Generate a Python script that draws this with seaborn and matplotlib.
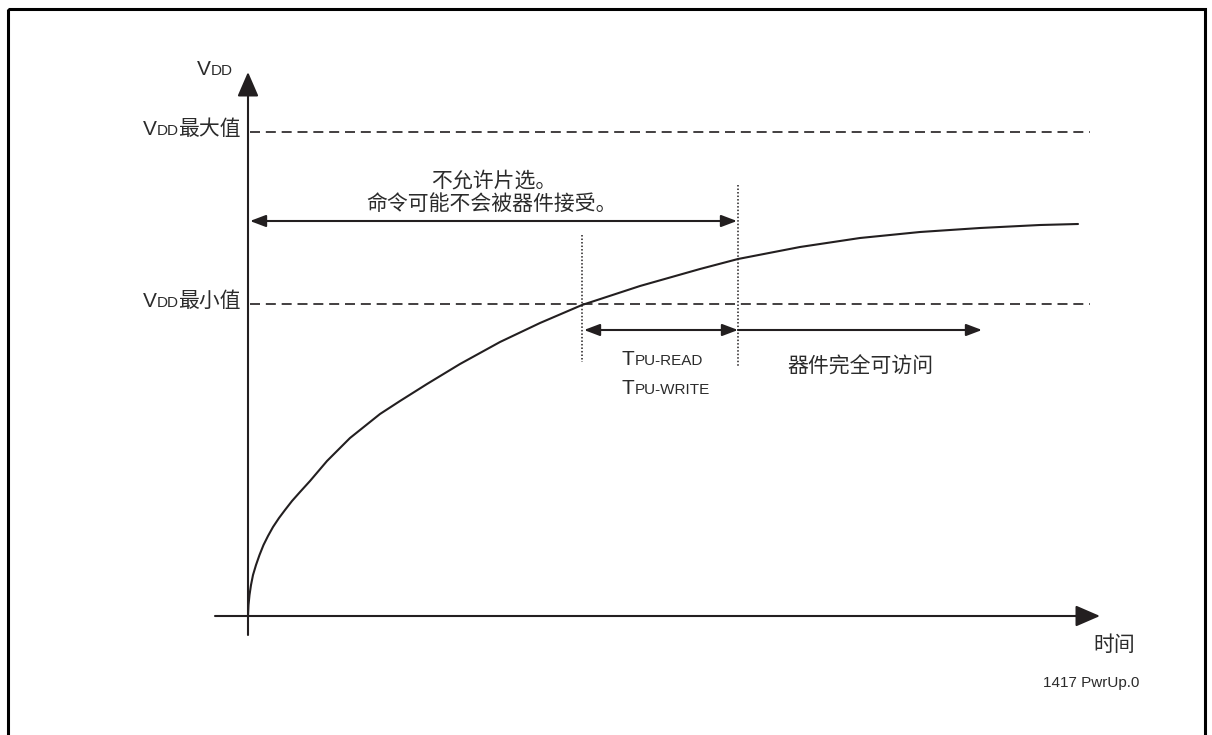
import matplotlib
matplotlib.use("Agg")
import matplotlib.pyplot as plt
import seaborn as sns
from matplotlib.patches import Rectangle

# everything below is in picture pixels (x to the right, y downwards)
curve_x = [248, 248.5, 249.5, 251, 253, 256, 259.5, 263.5, 268, 273, 279, 285, 292,
           300, 310, 327, 350, 380, 400, 427, 460, 500, 540, 582, 640, 700, 738,
           800, 860, 920, 980, 1040, 1078]
curve_y = [616, 605, 595, 585, 575, 565, 555, 545, 536, 527, 518, 510, 501,
           492, 481, 461, 438, 414, 401, 384, 364, 342, 323, 305, 286, 269, 259,
           247, 238, 232, 228, 225, 224]

vdd_levels = [132, 304]            # VDD max, VDD min
level_labels = ["最大值", "最小值"]
t_read_x = 582                      # VDD reaches min
t_ok_x = 738                        # device fully accessible
origin = (248, 616)

LINE = "#231f20"
TEXT = "#2b2b2b"

sns.set_theme(style="white")
plt.rcParams["font.family"] = ["Liberation Sans", "Noto Sans CJK SC", "DejaVu Sans"]

fig = plt.figure(figsize=(12.12, 7.35), dpi=100)
ax = fig.add_axes([0, 0, 1, 1])
ax.set_xlim(0, 1212)
ax.set_ylim(735, 0)
ax.axis("off")
renderer = fig.canvas.get_renderer()


def rich(x, y, parts, ha="left", va="baseline"):
    texts, widths = [], []
    for s, size in parts:
        t = ax.text(0, y, s, fontsize=size, va=va, ha="left", color=TEXT)
        widths.append(t.get_window_extent(renderer).width)
        texts.append(t)
    start = x - sum(widths) if ha == "right" else x
    for t, w in zip(texts, widths):
        t.set_x(start)
        start += w


def arrow(tail, tip, style, hl, hw, lw):
    ax.annotate("", xy=tip, xytext=tail,
                arrowprops=dict(arrowstyle=f"{style},head_length={hl},head_width={hw}",
                                mutation_scale=10, lw=lw, color=LINE,
                                shrinkA=0, shrinkB=0))


# frame
ax.add_patch(Rectangle((8, 9), 1197, 760, fill=False, lw=2.2, ec="black"))

# axes
ax.plot([origin[0], origin[0]], [635, 90], color=LINE, lw=1.5)
arrow((origin[0], 95), (origin[0], 72), "-|>", 1.5, 0.65, 1.5)
ax.plot([215, 1085], [origin[1], origin[1]], color=LINE, lw=1.5)
arrow((1075, origin[1]), (1100, origin[1]), "-|>", 1.5, 0.65, 1.5)

# VDD levels
for lvl, lab in zip(vdd_levels, level_labels):
    ax.plot([250, 1090], [lvl, lvl], color=LINE, lw=1.2, dashes=(6, 3.5))
    rich(241, lvl + 3, [("V", 15), ("DD", 11), (lab, 15)], ha="right")
rich(197, 75, [("V", 15), ("DD", 11)])

# supply ramp
sns.lineplot(x=curve_x, y=curve_y, sort=False, ax=ax, color=LINE, lw=1.5)

# timing markers
ax.plot([t_read_x, t_read_x], [235, 362], color=LINE, lw=1.1, ls=(0, (1, 1.3)))
ax.plot([t_ok_x, t_ok_x], [185, 367], color=LINE, lw=1.1, ls=(0, (1, 1.3)))

arrow((t_ok_x - 1, 221), (250, 221), "<|-|>", 0.95, 0.36, 1.5)
arrow((t_read_x + 2, 330), (t_ok_x, 330), "<|-|>", 0.95, 0.36, 1.5)
arrow((t_ok_x, 330), (982, 330), "-|>", 0.95, 0.36, 1.5)

ax.text(494, 181, "不允许片选。", fontsize=15, ha="center", va="center", color=TEXT)
ax.text(492, 204, "命令可能不会被器件接受。", fontsize=15, ha="center", va="center", color=TEXT)
rich(622, 365, [("T", 15), ("PU-READ", 11)])
rich(622, 394, [("T", 15), ("PU-WRITE", 11)])
ax.text(787, 367, "器件完全可访问", fontsize=15, ha="left", va="center", color=TEXT)

ax.text(1093, 645, "时间", fontsize=15, ha="left", va="center", color=TEXT)
ax.text(1043, 683, "1417 PwrUp.0", fontsize=11, ha="left", va="center", color=TEXT)

fig.savefig("out.png", dpi=100, facecolor="white")
